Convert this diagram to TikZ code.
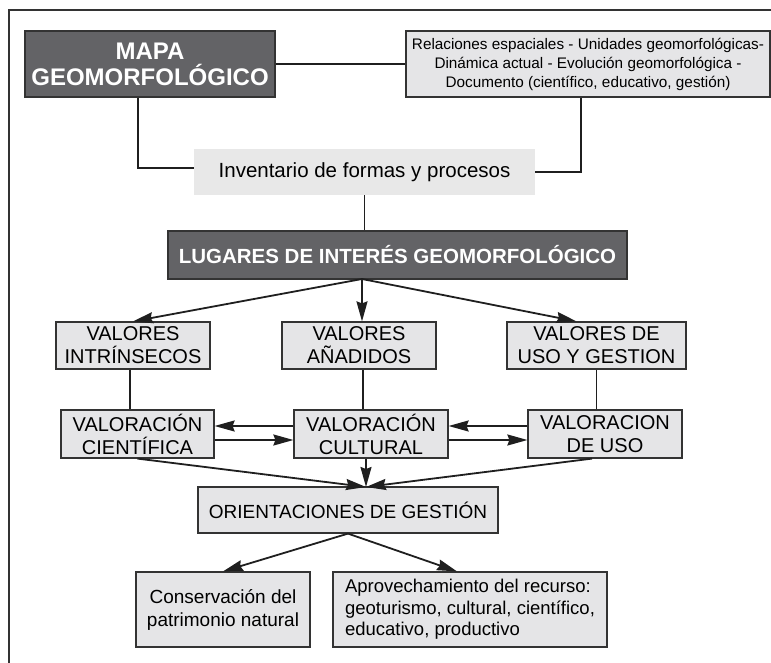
\documentclass[tikz,border=0pt]{standalone}
\usepackage{fontspec}
\setmainfont{Liberation Sans}
\usepackage{tikz}
\usetikzlibrary{arrows.meta,positioning,calc}
\usepackage{xcolor}
\definecolor{boxdark}{HTML}{636366}
\definecolor{boxlight}{HTML}{E5E5E7}
\definecolor{boxpale}{HTML}{E8E8E8}
\definecolor{edgegray}{HTML}{333333}

\begin{document}
\begin{tikzpicture}[x=1pt, y=-1pt,
    darkbox/.style={draw=edgegray, line width=1.2pt, fill=boxdark, text=white,
        inner sep=0pt, align=center},
    lightbox/.style={draw=edgegray, line width=1.2pt, fill=boxlight,
        inner sep=0pt, align=center, font=\fontsize{20}{23}\selectfont},
    link/.style={line width=1.8pt, draw=black!88},
    arr/.style={link, -{Stealth[length=20pt,width=11pt,inset=2pt]}}]
            \useasboundingbox (0,0) rectangle (771,663);
            % Frame
            \draw[line width=1.8pt, edgegray] (9,663) -- (9,10) -- (771,10);

            % Top row
            \node[darkbox, minimum width=250, minimum height=66,
                font=\fontsize{24}{26}\selectfont\bfseries] (mapa) at (150,64)
                {MAPA\\GEOMORFOLÓGICO};
            \node[lightbox, minimum width=364, minimum height=66,
                font=\fontsize{15.3}{19}\selectfont] (relac) at (588,64)
                {Relaciones espaciales - Unidades geomorfológicas-\\
                 Dinámica actual - Evolución geomorfológica -\\
                 Documento (científico, educativo, gestión)};
            \node[fill=boxpale, inner sep=0pt, minimum width=341, minimum height=46,
                font=\fontsize{20.5}{23}\selectfont] (inven) at (364.5,172)
                {Inventario de formas y procesos};
            \node[darkbox, minimum width=459, minimum height=48,
                font=\fontsize{20.5}{23}\selectfont\bfseries] (lugar) at (397.5,255)
                {LUGARES DE INTERÉS GEOMORFOLÓGICO};

            % Valores
            \node[lightbox, minimum width=154, minimum height=47] (vintr) at (133,345.5)
                {VALORES\\INTRÍNSECOS};
            \node[lightbox, minimum width=154, minimum height=47] (vanad) at (359,345.5)
                {VALORES\\AÑADIDOS};
            \node[lightbox, minimum width=179, minimum height=47] (vusog) at (596.5,345.5)
                {VALORES DE\\USO Y GESTION};

            % Valoraciones
            \node[lightbox, minimum width=153, minimum height=48] (vcien) at (137.5,434)
                {VALORACIÓN\\CIENTÍFICA};
            \node[lightbox, minimum width=154, minimum height=48] (vcult) at (371,434)
                {VALORACIÓN\\CULTURAL};
            \node[lightbox, minimum width=154, minimum height=48] (vduso) at (605,434)
                {VALORACION\\DE USO};

            % Gestion
            \node[lightbox, minimum width=300, minimum height=46,
                font=\fontsize{19}{23}\selectfont] (orien) at (348,510)
                {ORIENTACIONES DE GESTIÓN};
            \node[lightbox, minimum width=174, minimum height=75,
                font=\fontsize{19}{23}\selectfont] (conse) at (223,609.5)
                {Conservación del\\patrimonio natural};
            \node[lightbox, minimum width=274, minimum height=75, align=left,
                font=\fontsize{18.5}{21.5}\selectfont] (aprov) at (470,609.5)
                {Aprovechamiento del recurso:\\geoturismo, cultural, científico,\\educativo, productivo};

            % Connectors
            \coordinate (lugbot) at (362,279);
            \coordinate (oritop) at (366,487);
            \draw[link] (mapa.east) -- (relac.west);
            \draw[link] ([xshift=-12pt]mapa.south) |- ([yshift=4pt]inven.west);
            \draw[link] ([xshift=-7pt]relac.south) |- (inven.east);
            \draw[link] (inven.south) -- (inven.south |- lugar.north);

            \draw[arr] (lugbot) -- (vintr.north);
            \draw[arr] (lugbot) -- (lugbot |- vanad.north);
            \draw[arr] (lugbot) -- ([xshift=-20pt]vusog.north);

            \draw[link] ([xshift=-3pt]vintr.south) -- ([xshift=-3pt]vintr.south |- vcien.north);
            \draw[link] ([xshift=4pt]vanad.south) -- ([xshift=4pt]vanad.south |- vcult.north);
            \draw[link] (vusog.south) -- (vusog.south |- vduso.north);

            \draw[arr] ([yshift=8pt]vcult.west) -- ([yshift=8pt]vcien.east);
            \draw[arr] ([yshift=-6pt]vcien.east) -- ([yshift=-6pt]vcult.west);
            \draw[arr] ([yshift=8pt]vduso.west) -- ([yshift=8pt]vcult.east);
            \draw[arr] ([yshift=-6pt]vcult.east) -- ([yshift=-6pt]vduso.west);

            \draw[arr] (vcien.south) -- (oritop);
            \draw[arr] (vcult.south -| oritop) -- (oritop);
            \draw[arr] ([xshift=-13pt]vduso.south) -- (oritop);

            \draw[arr] (orien.south) -- (conse.north);
            \draw[arr] (orien.south) -- ([xshift=-13pt]aprov.north);
        \end{tikzpicture}
\end{document}
